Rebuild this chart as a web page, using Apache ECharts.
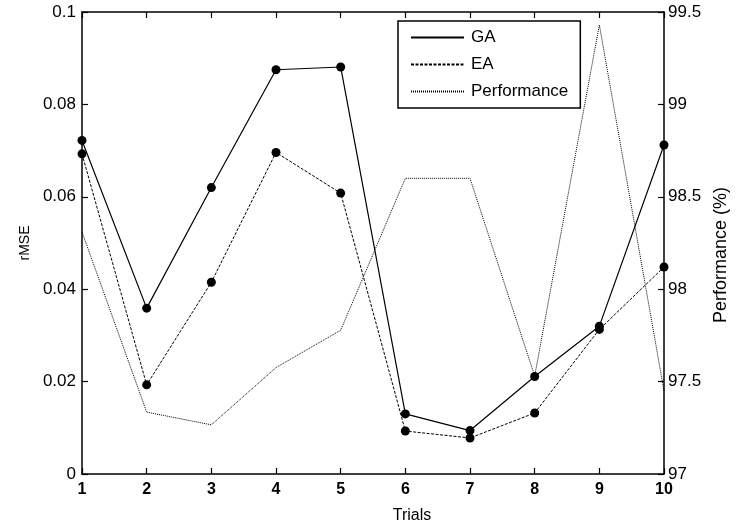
<!DOCTYPE html>
<html>
<head>
<meta charset="utf-8">
<script src="https://cdn.jsdelivr.net/npm/echarts@6/dist/echarts.min.js"></script>
<style>
  html, body { margin: 0; padding: 0; background: #fff; }
  #chart { width: 738px; height: 529px; }
</style>
</head>
<body>
<div id="chart"></div>
<script>
// Trial numbers along the x axis
const trials = ['1', '2', '3', '4', '5', '6', '7', '8', '9', '10'];
// rMSE per trial (left axis)
const gaValues = [0.0722, 0.0359, 0.0620, 0.0875, 0.0881, 0.0130, 0.0094, 0.0211, 0.0320, 0.0712];
const eaValues = [0.0693, 0.0193, 0.0415, 0.0696, 0.0608, 0.0093, 0.0078, 0.0132, 0.0313, 0.0448];
// Performance in percent per trial (right axis)
const perfValues = [98.31, 97.335, 97.266, 97.576, 97.778, 98.6, 98.6, 97.53, 99.43, 97.45];

const FONT = '"Liberation Sans", Arial, Helvetica, sans-serif';
const axisLine = { show: true, lineStyle: { color: '#000', width: 1.5 } };
const innerTick = { show: true, inside: true, length: 6, lineStyle: { color: '#000', width: 1.2 } };

const chart = echarts.init(document.getElementById('chart'), null, { renderer: 'canvas' });
chart.setOption({
  animation: false,
  backgroundColor: '#fff',
  grid: { left: 82, right: 61, top: 12, bottom: 50, containLabel: false },
  legend: {
    orient: 'vertical',
    left: 398,
    top: 21,
    itemWidth: 53,
    itemHeight: 14,
    itemGap: 10,
    padding: [8, 12, 8, 12],
    borderColor: '#000',
    borderWidth: 1.5,
    backgroundColor: '#fff',
    itemStyle: { opacity: 0 },
    textStyle: { color: '#000', fontSize: 17, fontFamily: FONT, padding: [0, 0, 0, 2] },
    data: ['GA', 'EA', 'Performance']
  },
  xAxis: [
    {
      type: 'category',
      data: trials,
      boundaryGap: false,
      position: 'bottom',
      name: 'Trials',
      nameLocation: 'middle',
      nameGap: 34,
      nameTextStyle: { color: '#000', fontSize: 16, fontFamily: FONT, padding: [0, 0, 0, 78] },
      axisLine: axisLine,
      axisTick: innerTick,
      axisLabel: { color: '#000', fontSize: 16, fontWeight: 'bold', fontFamily: FONT, margin: 8 },
      splitLine: { show: false }
    },
    {
      type: 'category',
      data: trials,
      boundaryGap: false,
      position: 'top',
      axisLine: axisLine,
      axisTick: innerTick,
      axisLabel: { show: false },
      splitLine: { show: false }
    }
  ],
  yAxis: [
    {
      type: 'value',
      min: 0,
      max: 0.1,
      interval: 0.02,
      position: 'left',
      name: 'rMSE',
      nameLocation: 'middle',
      nameGap: 35,
      nameTextStyle: { color: '#000', fontSize: 14, fontFamily: FONT },
      axisLine: axisLine,
      axisTick: innerTick,
      axisLabel: { color: '#000', fontSize: 17, fontFamily: FONT, margin: 6 },
      splitLine: { show: false }
    },
    {
      type: 'value',
      min: 97,
      max: 99.5,
      interval: 0.5,
      position: 'right',
      name: 'Performance (%)',
      nameLocation: 'middle',
      nameRotate: 90,
      nameGap: 42,
      nameTextStyle: { color: '#000', fontSize: 18, fontFamily: FONT, padding: [0, 24, 0, 0] },
      axisLine: axisLine,
      axisTick: innerTick,
      axisLabel: { color: '#000', fontSize: 17, fontFamily: FONT, margin: 4 },
      splitLine: { show: false }
    }
  ],
  series: [
    {
      name: 'GA',
      type: 'line',
      xAxisIndex: 0,
      yAxisIndex: 0,
      data: gaValues,
      symbol: 'circle',
      symbolSize: 9,
      itemStyle: { color: '#000' },
      lineStyle: { color: '#000', width: 1.2, type: 'solid' },
      z: 3
    },
    {
      name: 'EA',
      type: 'line',
      xAxisIndex: 0,
      yAxisIndex: 0,
      data: eaValues,
      symbol: 'circle',
      symbolSize: 9,
      itemStyle: { color: '#000' },
      lineStyle: { color: '#000', width: 1, type: [3, 1.5] },
      z: 3
    },
    {
      name: 'Performance',
      type: 'line',
      xAxisIndex: 0,
      yAxisIndex: 1,
      data: perfValues,
      symbol: 'none',
      itemStyle: { color: '#000' },
      lineStyle: { color: '#000', width: 1, type: [1, 1] },
      z: 2
    }
  ]
});
</script>
</body>
</html>
